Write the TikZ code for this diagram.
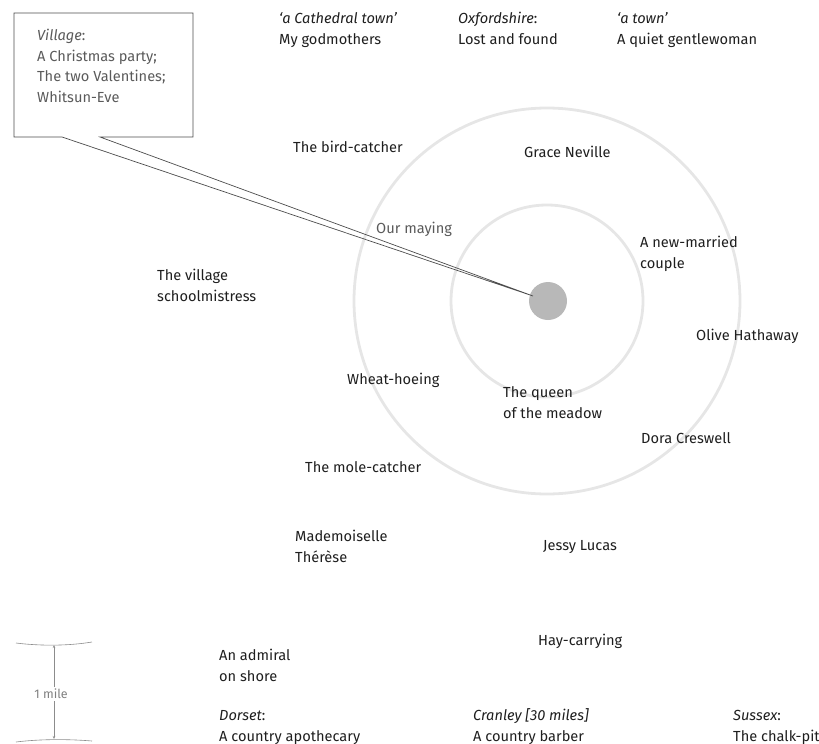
\documentclass[tikz,border=0pt]{standalone}
\usepackage{fontspec}
\setmainfont{Fira Sans}
\usetikzlibrary{arrows.meta}
\definecolor{txt}{HTML}{1E1E1E}
\definecolor{soft}{HTML}{5A5A5A}
\definecolor{ring}{HTML}{E6E6E6}
\definecolor{dot}{HTML}{B8B8B8}
\begin{document}
\begin{tikzpicture}[x=1pt,y=-1pt,
  lbl/.style={anchor=base west,inner sep=0pt,align=left,text=txt,
    font=\fontsize{14.6}{20.5}\selectfont},
  softlbl/.style={lbl,text=soft},
  ringline/.style={draw=ring,line width=2.8pt},
  callout/.style={draw=black!70,line width=0.7pt,line join=miter},
  scale line/.style={draw=black!45,line width=0.6pt}]
\useasboundingbox (0,0) rectangle (819,744);
% rings
\coordinate (C) at (547,301);
\draw[ringline] (C) circle[radius=193];
\draw[ringline] (C) circle[radius=96];
\node[circle,fill=dot,minimum size=38pt,inner sep=0pt] (hub) at (548,301) {};
% callout
\coordinate (b1) at (62,137);
\coordinate (bsw) at (14,137);
\coordinate (bnw) at (14,13);
\coordinate (bne) at (193,13);
\coordinate (bse) at (193,137);
\coordinate (b2) at (100,137);
\coordinate (tip) at (533,296);
\draw[callout] (b1) -- (bsw) -- (bnw) -- (bne) -- (bse) -- (b2) -- (tip) -- cycle;
% multi-line nodes: coordinate is the baseline of the last line
\node[softlbl] (village) at (37,102) {\textit{Village}:\\A Christmas party;\\The two Valentines;\\Whitsun-Eve};
% top row
\node[lbl] (cath) at (279,44) {\textit{‘a Cathedral town’}\\My godmothers};
\node[lbl] (oxf) at (458,44) {\textit{Oxfordshire}:\\Lost and found};
\node[lbl] (town) at (617,44) {\textit{‘a town’}\\A quiet gentlewoman};
% labels
\node[lbl] (bird) at (293,152) {The bird-catcher};
\node[lbl] (grace) at (524,157) {Grace Neville};
\node[softlbl] (maying) at (376,233) {Our maying};
\node[lbl] (newmarried) at (640,268) {A new-married\\couple};
\node[lbl] (school) at (157,301) {The village\\schoolmistress};
\node[lbl] (olive) at (696,340) {Olive Hathaway};
\node[lbl] (wheat) at (347,384) {Wheat-hoeing};
\node[lbl] (queen) at (503,418) {The queen\\of the meadow};
\node[lbl] (dora) at (641,443) {Dora Creswell};
\node[lbl] (mole) at (305,472) {The mole-catcher};
\node[lbl] (mlle) at (295,562) {Mademoiselle\\Thérèse};
\node[lbl] (jessy) at (543,550) {Jessy Lucas};
\node[lbl] (hay) at (538,645) {Hay-carrying};
\node[lbl] (admiral) at (219,681) {An admiral\\on shore};
% bottom row
\node[lbl] (dorset) at (219,741) {\textit{Dorset}:\\A country apothecary};
\node[lbl] (cranley) at (473,741) {\textit{Cranley [30 miles]}\\A country barber};
\node[lbl] (sussex) at (733,741) {\textit{Sussex}:\\The chalk-pit};
% scale bar
\coordinate (sl1) at (16,643);
\coordinate (sr1) at (92,642);
\coordinate (sl2) at (16,742);
\coordinate (sr2) at (92,741);
\coordinate (st) at (54,645);
\coordinate (sb) at (54,739);
\draw[scale line] (sl1) .. controls (40,646) and (68,646) .. (sr1);
\draw[scale line] (sl2) .. controls (40,739) and (68,739) .. (sr2);
\node[inner sep=2pt,text=black!50,font=\fontsize{12.5}{14}\selectfont] (mile) at (51,694) {1 mile};
\draw[scale line,-{Stealth[length=3pt,width=2.5pt]}] (mile.north -| st) -- (st);
\draw[scale line,-{Stealth[length=3pt,width=2.5pt]}] (mile.south -| sb) -- (sb);
\end{tikzpicture}
\end{document}
